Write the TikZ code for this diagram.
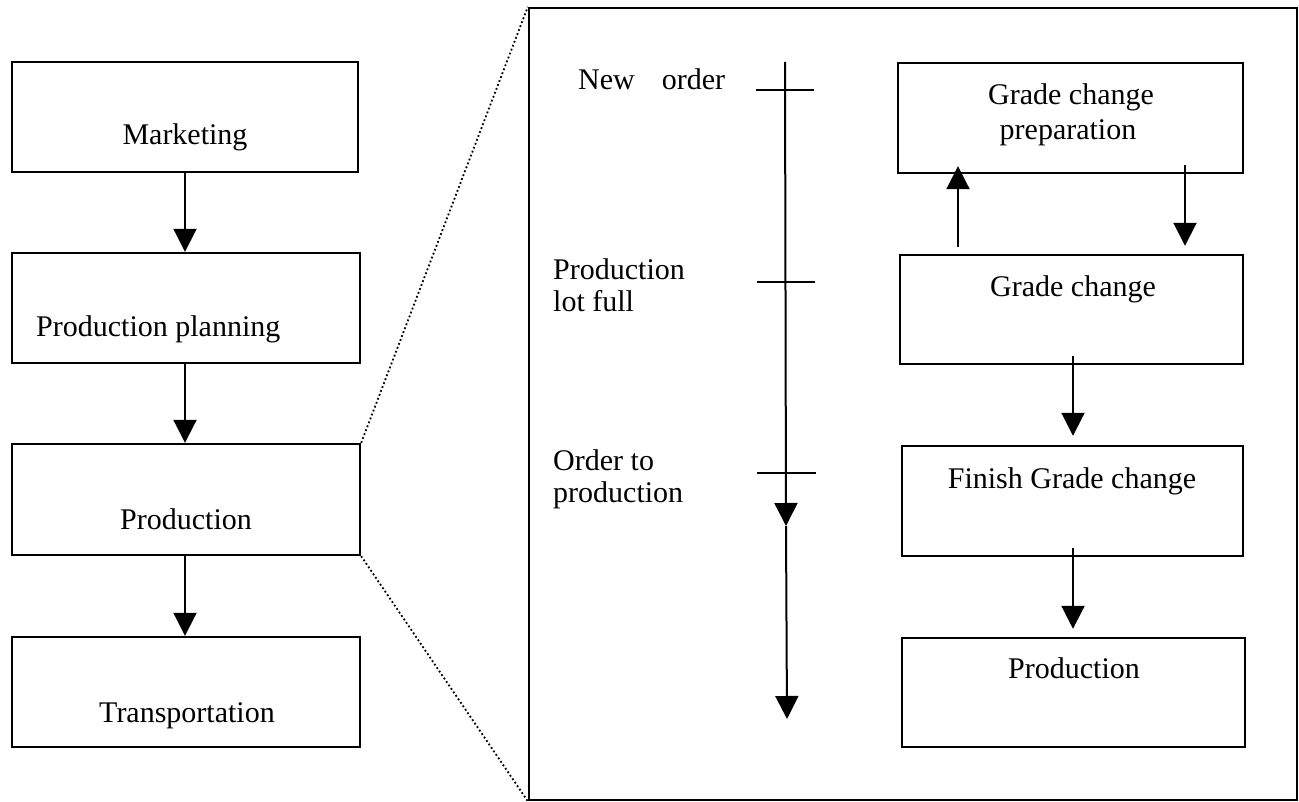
\documentclass[tikz,border=0pt]{standalone}
\usepackage{fontspec}
\setmainfont{Liberation Serif}
\usetikzlibrary{arrows.meta}
\begin{document}
\begin{tikzpicture}[x=1pt,y=-1pt,
  box/.style={draw, line width=2.4pt, inner sep=0pt},
  txt/.style={inner sep=0pt, font=\fontsize{30}{36}\selectfont},
  flow/.style={line width=2pt, -{Triangle[width=23pt,length=23pt]}},
  tick/.style={line width=2.4pt},
  zoomline/.style={line width=1.8pt, dash pattern=on 1.8pt off 2.4pt}]
\useasboundingbox (0,0) rectangle (1299,802);

% value chain on the left
\node[box, minimum width=346pt, minimum height=110pt] (mkt)  at (185,117)   {};
\node[box, minimum width=348pt, minimum height=110pt] (plan) at (186,308)   {};
\node[box, minimum width=348pt, minimum height=111pt] (prod) at (186,499.5) {};
\node[box, minimum width=348pt, minimum height=110pt] (trans) at (186,692)  {};

\node[txt, anchor=base] (mktT) at (185,145) {Marketing};
\node[txt, anchor=base west] (planT) at (36,337) {Production planning};
\node[txt, anchor=base] (prodT) at (186,529) {Production};
\node[txt, anchor=base] (transT) at (187,722) {Transportation};

\draw[flow] (mkt.south) -- (mkt.south |- plan.north);
\draw[flow] (plan.south -| mkt.south) -- (mkt.south |- prod.north);
\draw[flow] (prod.south -| mkt.south) -- (mkt.south |- trans.north);

% detail panel of the production step
\node[box, minimum width=768pt, minimum height=792pt] (panel) at (913,404) {};
\draw[zoomline] (prod.north east) -- (panel.north west);
\draw[zoomline] (prod.south east) -- (panel.south west);

% time axis
\coordinate (tTop) at (785,62);
\coordinate (tMid) at (786,526);
\coordinate (tEnd) at (787,719);
\draw[flow] (tTop) -- (tMid);
\draw[flow] (tMid) -- (tEnd);
\coordinate (t1a) at (756,90);  \coordinate (t1b) at (814,90);
\coordinate (t2a) at (757,282); \coordinate (t2b) at (815,282);
\coordinate (t3a) at (757,473); \coordinate (t3b) at (816,473);
\draw[tick] (t1a) -- (t1b);
\draw[tick] (t2a) -- (t2b);
\draw[tick] (t3a) -- (t3b);

\node[txt, anchor=base west] (ev1) at (578,90) {New\hspace{0.9em}order};
\node[txt, anchor=base west] (ev2a) at (553,280) {Production};
\node[txt, anchor=base west] (ev2b) at (553,312) {lot full};
\node[txt, anchor=base west] (ev3a) at (553,470) {Order to};
\node[txt, anchor=base west] (ev3b) at (553,502) {production};

% grade change sequence
\node[box, minimum width=345pt, minimum height=110pt] (prep)   at (1070.5,118)   {};
\node[box, minimum width=343pt, minimum height=109pt] (grade)  at (1071.5,309.5) {};
\node[box, minimum width=341pt, minimum height=110pt] (finish) at (1072.5,501)   {};
\node[box, minimum width=343pt, minimum height=109pt] (run)    at (1073.5,692.5) {};

\node[txt, anchor=base] (prepT1) at (1071,105) {Grade change};
\node[txt, anchor=base] (prepT2) at (1068,140) {preparation};
\node[txt, anchor=base] (gradeT) at (1073,297) {Grade change};
\node[txt, anchor=base] (finishT) at (1072,488) {Finish Grade change};
\node[txt, anchor=base] (runT) at (1074,678) {Production};

\coordinate (upx) at (958,0);
\coordinate (dnx) at (1185,0);
\coordinate (midx) at (1073,0);
\draw[flow] ([yshift=7pt]upx |- grade.north) -- ([yshift=8pt]upx |- prep.south);
\draw[flow] ([yshift=9pt]dnx |- prep.south) -- ([yshift=8pt]dnx |- grade.north);
\draw[flow] ([yshift=9pt]midx |- grade.south) -- ([yshift=9pt]midx |- finish.north);
\draw[flow] ([yshift=9pt]midx |- finish.south) -- ([yshift=8pt]midx |- run.north);
\end{tikzpicture}
\end{document}
